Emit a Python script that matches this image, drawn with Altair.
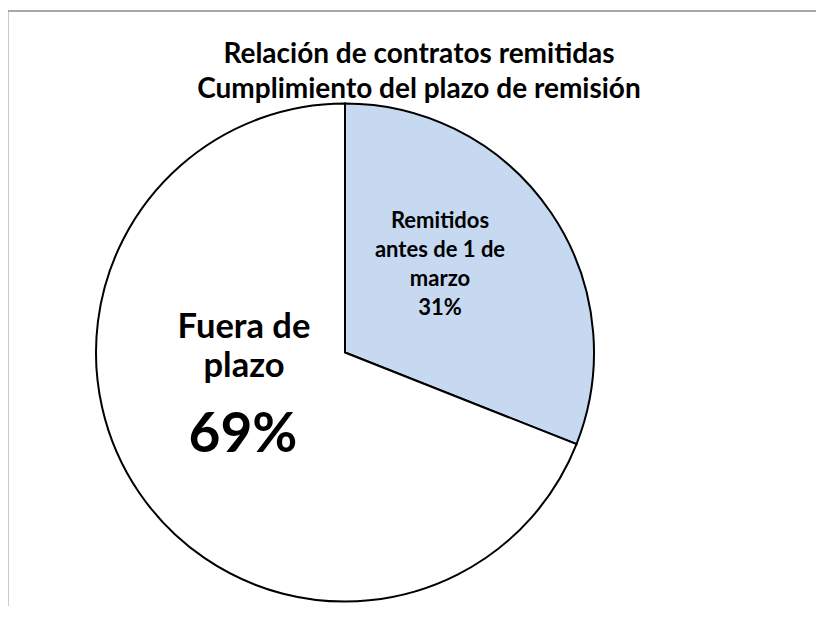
import altair as alt
import pandas as pd

# ---- data ----
categories = ["Remitidos antes de 1 de marzo", "Fuera de plazo"]
values = [31, 69]
slice_colors = ["#C6D9F1", "#FFFFFF"]
label_lines = [["Remitidos", "antes de 1 de", "marzo"], ["Fuera de", "plazo"]]
title_lines = ["Relación de contratos remitidas", "Cumplimiento del plazo de remisión"]

pct = [f"{v}%" for v in values]
df = pd.DataFrame({
    "cat": categories,
    "value": values,
    "idx": list(range(len(categories))),
    "small": ["|".join(label_lines[0] + [pct[0]]), ""],
    "big": ["", "|".join(label_lines[1])],
    "bigpct": ["", pct[1]],
})

FONT = "Lato"
CX, CY, R = 333, 340.5, 249
W, H = 800, 594

base = alt.Chart(df).encode(
    theta=alt.Theta("value:Q", stack=True),
    order=alt.Order("idx:O"),
    detail="cat:N",
    x=alt.value(CX),
    y=alt.value(CY),
)

arc = base.mark_arc(radius=R, stroke="black", strokeWidth=2).encode(
    color=alt.Color("cat:N", scale=alt.Scale(domain=categories, range=slice_colors), legend=None)
)

small_txt = base.mark_text(
    radius=130, font=FONT, fontWeight="bold", fontSize=22, lineHeight=29,
    align="center", baseline="alphabetic", dx=-12.5, dy=-51.4, color="black"
).transform_calculate(t="split(datum.small, '|')").encode(text="t:N")

big_txt = base.mark_text(
    radius=130, font=FONT, fontWeight="bold", fontSize=34.5, lineHeight=39,
    align="center", baseline="alphabetic", dx=6.5, dy=-87.6, color="black"
).transform_calculate(t="split(datum.big, '|')").encode(text="t:N")

big_pct = base.mark_text(
    radius=130, font=FONT, fontWeight="bold", fontSize=55,
    align="center", baseline="alphabetic", dx=5.5, dy=26.4, color="black"
).encode(text="bigpct:N")

title_df = pd.DataFrame({"t": ["|".join(title_lines)]})
title = alt.Chart(title_df).mark_text(
    font=FONT, fontWeight="bold", fontSize=28, lineHeight=35,
    align="center", baseline="alphabetic", color="black"
).transform_calculate(tt="split(datum.t, '|')").encode(
    text="tt:N", x=alt.value(407), y=alt.value(51)
)

frame_df = pd.DataFrame({"k": [0]})
left_rule = alt.Chart(frame_df).mark_rule(color="#8a8a8a", strokeWidth=1.5).encode(
    x=alt.value(-4.3), y=alt.value(-1), y2=alt.value(H)
)
top_rule = alt.Chart(frame_df).mark_rule(color="#8a8a8a", strokeWidth=1.5).encode(
    x=alt.value(-4.3), x2=alt.value(W + 4), y=alt.value(-1)
)

chart = alt.layer(arc, small_txt, big_txt, big_pct, title, left_rule, top_rule).properties(
    width=W, height=H,
    padding={"left": 4, "top": 4, "right": 4, "bottom": 0},
    autosize="none",
).configure_view(stroke=None)

chart.save("out.html", embed_options={"renderer": "svg", "actions": False})
